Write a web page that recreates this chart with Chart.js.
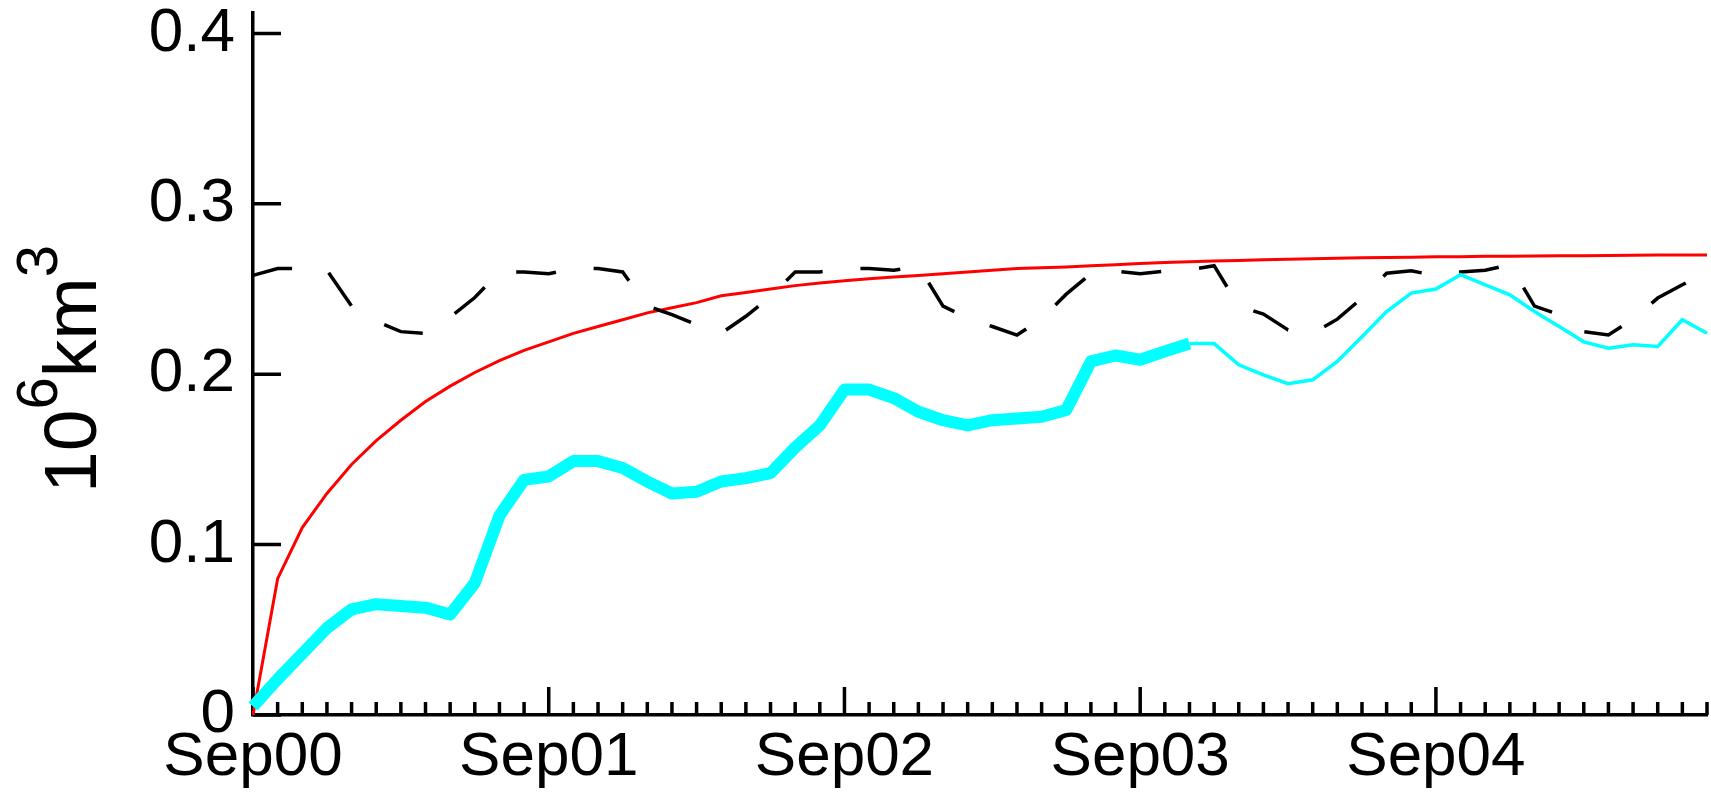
<!DOCTYPE html>
<html>
<head>
<meta charset="utf-8">
<script src="https://cdn.jsdelivr.net/npm/chart.js@4.4.1/dist/chart.umd.min.js"></script>
<style>
  html, body { margin: 0; padding: 0; background: #fff; }
  canvas { display: block; }
</style>
</head>
<body>
<canvas id="myChart" width="1711" height="806"></canvas>
<script>
'use strict';

// months Sep00 .. Aug05
const monthNames = ['Sep', 'Oct', 'Nov', 'Dec', 'Jan', 'Feb', 'Mar', 'Apr', 'May', 'Jun', 'Jul', 'Aug'];
const startYear = 0;
const monthCount = 60;

const tickLabels = ['Sep00', 'Sep01', 'Sep02', 'Sep03', 'Sep04'];
const yTicks = [0, 0.1, 0.2, 0.3, 0.4];

// red: smooth saturation curve
const redValues = [
  0, 0.080, 0.110, 0.130, 0.147, 0.161, 0.173, 0.184, 0.193, 0.201, 0.208, 0.214,
  0.219, 0.224, 0.228, 0.232, 0.236, 0.239, 0.242, 0.246, 0.248, 0.250, 0.252, 0.2535,
  0.2548, 0.256, 0.257, 0.258, 0.259, 0.260, 0.261, 0.262, 0.2625, 0.263, 0.2637, 0.2643,
  0.265, 0.2655, 0.266, 0.2664, 0.2668, 0.2672, 0.2675, 0.2678, 0.268, 0.2683, 0.2685, 0.2687,
  0.2689, 0.269, 0.2692, 0.2693, 0.2694, 0.2695, 0.2696, 0.2697, 0.2698, 0.2699, 0.270, 0.270
];

// black dashed: seasonal cycle
const dashedValues = [
  0.258, 0.262, 0.262, 0.261, 0.240, 0.231, 0.225, 0.224, 0.2335, 0.245, 0.260, 0.260,
  0.259, 0.262, 0.262, 0.260, 0.240, 0.235, 0.229, 0.224, 0.234, 0.2455, 0.260, 0.260,
  0.262, 0.262, 0.261, 0.2635, 0.240, 0.233, 0.228, 0.223, 0.2325, 0.247, 0.259, 0.2605,
  0.259, 0.2605, 0.2613, 0.2637, 0.240, 0.2353, 0.226, 0.224, 0.2323, 0.2447, 0.2593, 0.2607,
  0.2578, 0.260, 0.261, 0.2642, 0.240, 0.235, 0.225, 0.223, 0.2323, 0.2447, 0.2525, 0.2603
];

// cyan, thick part (Sep00 .. Nov03)
const cyanThick = [
  0.005, 0.021, 0.036, 0.051, 0.062, 0.065, 0.064, 0.063, 0.059, 0.0775, 0.117, 0.138,
  0.140, 0.149, 0.149, 0.145, 0.137, 0.130, 0.131, 0.137, 0.139, 0.142, 0.157, 0.170,
  0.191, 0.191, 0.186, 0.178, 0.173, 0.170, 0.173, 0.174, 0.175, 0.179, 0.2075, 0.211,
  0.2085, 0.2134, 0.218
];

// cyan, thin part (Nov03 .. Aug05)
const cyanThin = [
  0.218, 0.218, 0.2055, 0.1996, 0.1944, 0.1967, 0.2075, 0.222, 0.2368, 0.2476,
  0.250, 0.2584, 0.2525, 0.2466, 0.2368, 0.228, 0.219, 0.2153, 0.2173, 0.2163, 0.232, 0.224
];

const yTitleParts = [
  { text: '10', sup: false },
  { text: '6', sup: true },
  { text: 'km', sup: false },
  { text: '3', sup: true }
];

const fontFamily = '"Liberation Sans", Arial, Helvetica, sans-serif';

function buildMonthLabels() {
  const labels = [];
  for (let i = 0; i < monthCount; i++) {
    const year = startYear + Math.floor((i + 8) / 12);
    labels.push(monthNames[i % 12] + String(year).padStart(2, '0'));
  }
  return labels;
}

const monthLabels = buildMonthLabels();

// thick series runs up to index cyanThick.length - 1, thin one continues from there
const thinOffset = cyanThick.length - 1;
const cyanThickData = monthLabels.map((m, i) => (i < cyanThick.length ? cyanThick[i] : null));
const cyanThinData = monthLabels.map((m, i) => (i >= thinOffset ? cyanThin[i - thinOffset] : null));

// ticks point into the plot, like the original
const inwardTicks = {
  id: 'inwardTicks',
  beforeDatasetsDraw(chart) {
    const { ctx, chartArea, scales } = chart;
    ctx.save();
    ctx.strokeStyle = '#000';
    ctx.lineWidth = 3.5;
    ctx.beginPath();
    monthLabels.forEach((label, i) => {
      const px = scales.x.getPixelForValue(i);
      const len = tickLabels.includes(label) ? 28 : 13;
      ctx.moveTo(px, chartArea.bottom);
      ctx.lineTo(px, chartArea.bottom - len);
    });
    yTicks.forEach((v) => {
      const py = scales.y.getPixelForValue(v);
      ctx.moveTo(chartArea.left, py);
      ctx.lineTo(chartArea.left + 28, py);
    });
    ctx.stroke();
    ctx.restore();
  }
};

// y title with raised exponents
const yTitle = {
  id: 'yTitle',
  afterDraw(chart) {
    const { ctx, chartArea } = chart;
    ctx.save();
    ctx.translate(chartArea.left - 157, chartArea.bottom - 222);
    ctx.rotate(-Math.PI / 2);
    ctx.fillStyle = '#000';
    ctx.textBaseline = 'alphabetic';
    ctx.textAlign = 'left';
    let pos = 0;
    for (const part of yTitleParts) {
      ctx.font = (part.sup ? '58px ' : '75px ') + fontFamily;
      ctx.fillText(part.text, pos, part.sup ? -39 : 0);
      pos += ctx.measureText(part.text).width;
    }
    ctx.restore();
  }
};

const data = {
  labels: monthLabels,
  datasets: [
    {
      label: 'cyan thick',
      data: cyanThickData,
      borderColor: '#00ffff',
      borderWidth: 12,
      borderJoinStyle: 'round',
      spanGaps: false
    },
    {
      label: 'cyan thin',
      data: cyanThinData,
      borderColor: '#00ffff',
      borderWidth: 3.5,
      spanGaps: false
    },
    {
      label: 'dashed',
      data: dashedValues,
      borderColor: '#000000',
      borderWidth: 3.5,
      borderDash: [40, 38]
    },
    {
      label: 'red',
      data: redValues,
      borderColor: '#ff0000',
      borderWidth: 3
    }
  ]
};

const config = {
  type: 'line',
  data: data,
  options: {
    responsive: false,
    animation: false,
    devicePixelRatio: 1,
    layout: {
      padding: { top: 13, right: 4, left: 0, bottom: 0 }
    },
    elements: {
      point: { radius: 0 },
      line: { tension: 0, fill: false }
    },
    plugins: {
      legend: { display: false },
      tooltip: { enabled: false }
    },
    scales: {
      x: {
        type: 'category',
        offset: false,
        grid: { display: false, drawTicks: false },
        border: { display: true, color: '#000', width: 3.5 },
        ticks: {
          autoSkip: false,
          maxRotation: 0,
          minRotation: 0,
          padding: 6,
          color: '#000',
          font: { size: 62, family: fontFamily },
          callback: function (value, index) {
            const label = monthLabels[index];
            return tickLabels.includes(label) ? label : '';
          }
        },
        afterFit: function (scale) {
          scale.height = 91;
          scale.paddingLeft = 0;
          scale.paddingRight = 0;
        }
      },
      y: {
        min: 0,
        max: 0.412,
        grid: { display: false, drawTicks: false },
        border: { display: true, color: '#000', width: 3.5 },
        afterBuildTicks: function (scale) {
          scale.ticks = yTicks.map((v) => ({ value: v }));
        },
        ticks: {
          padding: 18,
          color: '#000',
          font: { size: 62, family: fontFamily },
          callback: function (value) {
            return value === 0 ? '0' : value.toFixed(1);
          }
        },
        afterFit: function (scale) {
          scale.width = 253;
          scale.paddingTop = 0;
          scale.paddingBottom = 0;
        }
      }
    }
  },
  plugins: [inwardTicks, yTitle]
};

new Chart(document.getElementById('myChart'), config);
</script>
</body>
</html>
